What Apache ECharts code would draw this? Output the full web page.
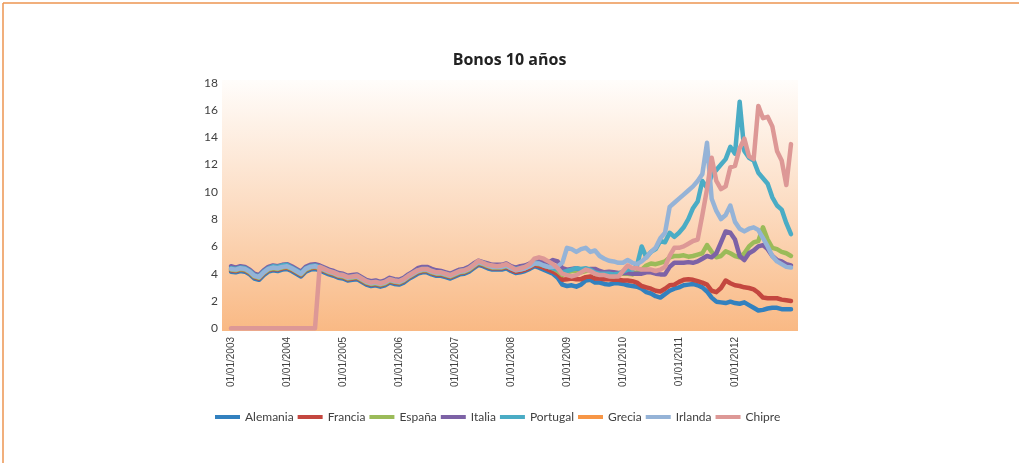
<!DOCTYPE html>
<html>
<head>
<meta charset="utf-8">
<title>Bonos 10 años</title>
<script src="https://cdn.jsdelivr.net/npm/echarts@6/dist/echarts.min.js"></script>
<style>
  html, body { margin: 0; padding: 0; background: #fff; }
  #chart { position: absolute; left: 0; top: 0; width: 1019px; height: 463px; }
</style>
</head>
<body>
<div id="chart"></div>
<script>
// indice = mes desde 01/01/2003 (0..120, un valor por mes)
const etiquetasX = [0, 12, 24, 36, 48, 60, 72, 84, 96, 108];
const ticksY = [0, 2, 4, 6, 8, 10, 12, 14, 16, 18];

const alemania = [
  4.15, 4.10, 4.20, 4.15, 3.95, 3.65, 3.55, 3.90, 4.15, 4.25, 4.20, 4.30,
  4.35, 4.20, 4.00, 3.80, 4.15, 4.30, 4.35, 4.25, 4.10, 3.95, 3.85, 3.70,
  3.65, 3.50, 3.55, 3.60, 3.40, 3.20, 3.10, 3.15, 3.05, 3.15, 3.35, 3.25,
  3.20, 3.35, 3.60, 3.80, 4.00, 4.10, 4.10, 3.95, 3.85, 3.85, 3.75, 3.65,
  3.80, 3.95, 4.00, 4.15, 4.40, 4.65, 4.55, 4.40, 4.30, 4.30, 4.30, 4.40,
  4.20, 4.05, 4.10, 4.20, 4.35, 4.55, 4.45, 4.30, 4.15, 4.00, 3.70, 3.20,
  3.10, 3.15, 3.05, 3.20, 3.50, 3.55, 3.35, 3.35, 3.25, 3.20, 3.30, 3.30,
  3.25, 3.15, 3.10, 3.05, 2.90, 2.65, 2.55, 2.35, 2.25, 2.50, 2.75, 2.90,
  3.00, 3.15, 3.20, 3.25, 3.15, 3.00, 2.70, 2.25, 1.95, 1.90, 1.85, 1.95,
  1.85, 1.80, 1.90, 1.70, 1.50, 1.30, 1.35, 1.45, 1.50, 1.50, 1.40, 1.40, 1.40
];
const francia = [
  4.25, 4.20, 4.30, 4.25, 4.05, 3.75, 3.65, 4.00, 4.25, 4.35, 4.30, 4.40,
  4.45, 4.30, 4.10, 3.90, 4.25, 4.40, 4.45, 4.35, 4.20, 4.05, 3.95, 3.80,
  3.75, 3.60, 3.65, 3.70, 3.50, 3.30, 3.20, 3.25, 3.15, 3.25, 3.45, 3.35,
  3.30, 3.45, 3.70, 3.90, 4.10, 4.20, 4.20, 4.05, 3.95, 3.95, 3.85, 3.75,
  3.90, 4.05, 4.10, 4.25, 4.50, 4.75, 4.65, 4.50, 4.40, 4.40, 4.40, 4.50,
  4.30, 4.15, 4.20, 4.30, 4.45, 4.65, 4.55, 4.45, 4.30, 4.15, 3.95, 3.55,
  3.60, 3.65, 3.60, 3.60, 3.75, 3.80, 3.65, 3.65, 3.60, 3.60, 3.55, 3.55,
  3.50, 3.50, 3.45, 3.35, 3.10, 3.00, 2.90, 2.75, 2.70, 2.90, 3.15, 3.20,
  3.40, 3.55, 3.60, 3.55, 3.45, 3.35, 3.20, 2.75, 2.65, 2.95, 3.50, 3.30,
  3.15, 3.10, 3.00, 2.95, 2.85, 2.60, 2.25, 2.20, 2.20, 2.20, 2.10, 2.05, 2.00
];
const espana = [
  4.30, 4.25, 4.35, 4.30, 4.10, 3.80, 3.70, 4.05, 4.30, 4.40, 4.35, 4.45,
  4.50, 4.35, 4.15, 3.95, 4.30, 4.45, 4.50, 4.40, 4.25, 4.10, 4.00, 3.85,
  3.80, 3.65, 3.70, 3.75, 3.55, 3.35, 3.25, 3.30, 3.20, 3.30, 3.50, 3.40,
  3.35, 3.50, 3.75, 3.95, 4.15, 4.25, 4.25, 4.10, 4.00, 4.00, 3.90, 3.80,
  3.95, 4.10, 4.15, 4.30, 4.55, 4.80, 4.70, 4.55, 4.45, 4.45, 4.45, 4.55,
  4.40, 4.25, 4.30, 4.40, 4.55, 4.75, 4.70, 4.60, 4.50, 4.40, 4.20, 3.90,
  4.10, 4.20, 4.20, 4.10, 4.20, 4.30, 4.00, 3.95, 3.95, 3.85, 3.80, 4.00,
  4.00, 4.00, 3.95, 4.10, 4.30, 4.60, 4.75, 4.70, 4.80, 4.90, 5.20, 5.30,
  5.30, 5.35, 5.25, 5.30, 5.40, 5.50, 6.10, 5.60, 5.20, 5.30, 5.65, 5.50,
  5.30, 5.20, 5.50, 6.00, 6.30, 6.40, 7.40, 6.50, 5.90, 5.80, 5.60, 5.50, 5.30
];
const italia = [
  4.55, 4.45, 4.55, 4.50, 4.30, 4.00, 3.90, 4.25, 4.50, 4.60, 4.55, 4.65,
  4.70, 4.55, 4.35, 4.15, 4.50, 4.65, 4.70, 4.60, 4.45, 4.30, 4.20, 4.05,
  4.00, 3.85, 3.90, 3.95, 3.75, 3.55, 3.45, 3.50, 3.40, 3.50, 3.70, 3.60,
  3.55, 3.70, 3.95, 4.15, 4.40, 4.50, 4.50, 4.35, 4.25, 4.20, 4.10, 4.00,
  4.15, 4.30, 4.35, 4.50, 4.75, 4.95, 4.85, 4.75, 4.65, 4.65, 4.65, 4.75,
  4.55, 4.45, 4.55, 4.60, 4.75, 4.95, 4.95, 4.85, 4.80, 5.00, 4.90, 4.40,
  4.30, 4.35, 4.40, 4.30, 4.30, 4.35, 4.35, 4.20, 4.10, 4.15, 4.10, 4.05,
  4.05, 4.05, 4.00, 4.00, 4.00, 4.10, 4.10, 4.00, 3.95, 3.95, 4.50, 4.80,
  4.80, 4.80, 4.85, 4.80, 4.90, 5.10, 5.30, 5.20, 5.50, 6.30, 7.10, 7.00,
  6.50, 5.30, 5.00, 5.50, 5.70, 6.00, 6.10, 5.80, 5.30, 5.00, 4.90, 4.70, 4.60
];
const portugal = [
  4.40, 4.35, 4.45, 4.40, 4.20, 3.90, 3.80, 4.15, 4.40, 4.55, 4.50, 4.60,
  4.65, 4.45, 4.25, 4.05, 4.40, 4.55, 4.60, 4.50, 4.35, 4.20, 4.10, 3.95,
  3.90, 3.75, 3.80, 3.85, 3.65, 3.45, 3.35, 3.40, 3.30, 3.40, 3.60, 3.50,
  3.45, 3.60, 3.85, 4.05, 4.25, 4.35, 4.35, 4.20, 4.10, 4.10, 4.00, 3.90,
  4.05, 4.20, 4.25, 4.40, 4.65, 4.90, 4.80, 4.65, 4.55, 4.55, 4.55, 4.65,
  4.45, 4.35, 4.40, 4.50, 4.65, 4.85, 4.75, 4.60, 4.50, 4.40, 4.30, 4.10,
  4.20, 4.30, 4.40, 4.35, 4.40, 4.30, 4.10, 4.00, 4.00, 4.00, 3.95, 4.00,
  4.15, 4.30, 4.30, 4.60, 6.00, 5.20, 5.60, 5.80, 6.40, 6.30, 7.00, 6.70,
  7.00, 7.40, 8.00, 8.80, 9.30, 10.80, 10.30, 11.20, 11.60, 12.00, 12.40, 13.30,
  12.80, 16.60, 13.00, 12.50, 12.30, 11.40, 11.00, 10.60, 9.60, 9.00, 8.70, 7.70, 6.90
];
const grecia = [];
const irlanda = [
  4.35, 4.30, 4.40, 4.35, 4.15, 3.85, 3.75, 4.10, 4.35, 4.45, 4.40, 4.50,
  4.55, 4.40, 4.20, 4.00, 4.35, 4.50, 4.55, 4.45, 4.30, 4.15, 4.05, 3.90,
  3.85, 3.70, 3.75, 3.80, 3.60, 3.40, 3.30, 3.35, 3.25, 3.35, 3.55, 3.45,
  3.40, 3.55, 3.80, 4.00, 4.20, 4.30, 4.30, 4.15, 4.05, 4.05, 3.95, 3.85,
  4.00, 4.15, 4.20, 4.35, 4.60, 4.85, 4.75, 4.60, 4.50, 4.50, 4.50, 4.60,
  4.40, 4.25, 4.30, 4.40, 4.55, 4.75, 4.75, 4.60, 4.50, 4.50, 4.55, 4.80,
  5.90, 5.80, 5.60, 5.80, 5.90, 5.60, 5.70, 5.30, 5.10, 4.95, 4.90, 4.80,
  4.80, 5.00, 4.80, 4.70, 4.90, 5.20, 5.60, 5.90, 6.60, 7.00, 8.90, 9.20,
  9.50, 9.80, 10.10, 10.40, 10.80, 11.30, 13.60, 9.50, 8.60, 8.00, 8.30, 9.00,
  7.80, 7.30, 7.10, 7.30, 7.40, 7.20, 6.60, 6.00, 5.30, 4.90, 4.70, 4.50, 4.45
];
const chipre = [
  0, 0, 0, 0, 0, 0, 0, 0, 0, 0, 0, 0,
  0, 0, 0, 0, 0, 0, 0, 4.50, 4.35, 4.20, 4.10, 3.95,
  3.90, 3.75, 3.80, 3.85, 3.65, 3.45, 3.35, 3.40, 3.30, 3.40, 3.60, 3.50,
  3.45, 3.60, 3.85, 4.05, 4.25, 4.35, 4.35, 4.20, 4.10, 4.10, 4.00, 3.90,
  4.05, 4.20, 4.25, 4.40, 4.65, 4.95, 4.80, 4.65, 4.60, 4.55, 4.60, 4.70,
  4.50, 4.30, 4.40, 4.50, 4.70, 5.10, 5.20, 5.10, 4.90, 4.70, 4.40, 4.00,
  3.90, 3.80, 3.90, 4.10, 4.30, 4.20, 4.00, 3.90, 3.90, 3.80, 3.80, 3.80,
  4.20, 4.60, 4.40, 4.40, 4.30, 4.30, 4.30, 4.20, 4.30, 4.50, 5.30, 5.90,
  5.90, 6.00, 6.20, 6.40, 6.50, 8.30, 10.20, 12.50, 10.80, 10.20, 10.40, 11.80,
  11.90, 13.20, 13.90, 12.60, 12.40, 16.30, 15.40, 15.50, 14.80, 13.00, 12.30, 10.50, 13.50
];

const paises = [
  { name: "Alemania", data: alemania, color: "#3281bf" },
  { name: "Francia", data: francia, color: "#c4473f" },
  { name: "España", data: espana, color: "#9bbb59" },
  { name: "Italia", data: italia, color: "#7d62a6" },
  { name: "Portugal", data: portugal, color: "#4aacc5" },
  { name: "Grecia", data: grecia, color: "#f79646" },
  { name: "Irlanda", data: irlanda, color: "#95b3d7" },
  { name: "Chipre", data: chipre, color: "#dd9896" },
];

const chart = echarts.init(document.getElementById("chart"));
chart.setOption({
  animation: false,
  color: paises.map((p) => p.color),
  // marco naranja de la pagina (arriba e izquierda)
  graphic: [
    { type: "line", shape: { x1: 3, y1: 3, x2: 1019, y2: 3 }, style: { stroke: "#ed9550", lineWidth: 1.5 }, silent: true },
    { type: "line", shape: { x1: 3, y1: 3, x2: 3, y2: 463 }, style: { stroke: "#ed9550", lineWidth: 1.5 }, silent: true },
  ],
  title: {
    text: "Bonos 10 años",
    left: "center",
    top: 47,
    textStyle: { fontFamily: "Open Sans", fontWeight: "bold", fontSize: 16, color: "#222" },
  },
  legend: {
    left: 210,
    top: 406,
    icon: "rect",
    itemWidth: 25,
    itemHeight: 4,
    itemGap: 4,
    textStyle: { fontFamily: "Lato", fontSize: 12, color: "#404040" },
    data: paises.map((p) => p.name),
  },
  grid: {
    left: 222,
    right: 221,
    top: 80,
    bottom: 132,
    show: true,
    borderWidth: 0,
    backgroundColor: new echarts.graphic.LinearGradient(0, 0, 0, 1, [
      { offset: 0, color: "#fffdfb" },
      { offset: 0.5, color: "#fcdcc2" },
      { offset: 1, color: "#f9b984" },
    ]),
  },
  xAxis: {
    type: "value",
    min: -1.93,
    max: 121.5,
    axisLine: { show: false },
    axisTick: { show: false },
    splitLine: { show: false },
    axisLabel: {
      customValues: etiquetasX,
      rotate: 90,
      margin: 6,
      fontFamily: "Liberation Sans",
      fontSize: 10,
      color: "#404040",
      formatter: (v) => "01/01/" + (2003 + Math.round(v / 12)),
    },
  },
  yAxis: {
    type: "value",
    min: -0.2,
    max: 18.2,
    axisLine: { show: false },
    axisTick: { show: false },
    splitLine: { show: false },
    axisLabel: {
      customValues: ticksY,
      margin: 4,
      fontFamily: "Lato",
      fontSize: 12,
      color: "#404040",
    },
  },
  series: paises.map((p) => ({
    name: p.name,
    type: "line",
    showSymbol: false,
    symbol: "none",
    data: p.data.map((v, i) => [i, v]),
    lineStyle: { width: 4.5, color: p.color, cap: "round", join: "round" },
    itemStyle: { color: p.color },
  })),
});
</script>
</body>
</html>
